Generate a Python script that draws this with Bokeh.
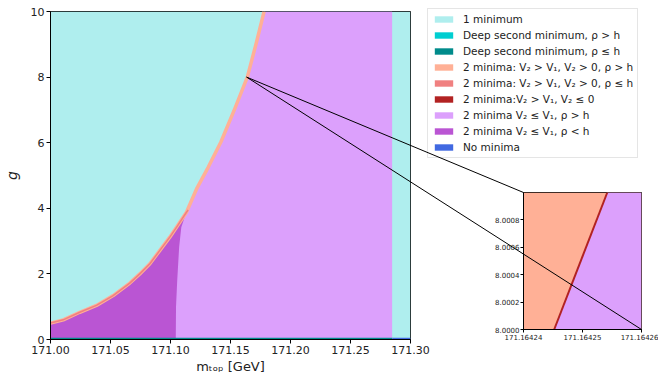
from bokeh.plotting import figure
from bokeh.models import Range1d, FixedTicker, PrintfTickFormatter, Legend, LegendItem
from bokeh.embed import file_html
from bokeh.resources import INLINE

# ---------------- data ----------------
m_range = [171.00, 171.30]
g_range = [0.0, 10.0]
x_ticks = [171.00, 171.05, 171.10, 171.15, 171.20, 171.25, 171.30]
y_ticks = [0, 2, 4, 6, 8, 10]

# boundary of the "1 minimum" region (left / upper-left)
curve_m = [171.000, 171.0106, 171.0244, 171.0383, 171.0522, 171.0661, 171.0744, 171.0828,
           171.091, 171.0994, 171.105, 171.1133, 171.1217, 171.1314, 171.142, 171.1536,
           171.164, 171.1717, 171.178]
curve_g = [0.50, 0.60, 0.83, 1.04, 1.34, 1.72, 2.00, 2.31,
           2.71, 3.12, 3.42, 3.88, 4.59, 5.25, 6.02, 7.04,
           8.00, 9.07, 10.0]

# boundary between "V2<=V1, rho<h" (dark) and "V2<=V1, rho>h" (light)
inner_m = [171.1147, 171.1125, 171.109, 171.1072, 171.1056, 171.1046, 171.1044]
inner_g = [3.95, 3.80, 3.42, 2.81, 1.80, 1.00, 0.00]

# right edge of the two-minima region
right_edge_m = 171.2847

# thin strips along g ~ 0
strip_left_m = [171.00, 171.2847]
strip_right_m = [171.2847, 171.30]
strip_g = [0.0, 0.05]

legend_labels = [
    "1 minimum",
    "Deep second minimum, \u03c1 > h",
    "Deep second minimum, \u03c1 \u2264 h",
    "2 minima: V\u2082 > V\u2081, V\u2082 > 0, \u03c1 > h",
    "2 minima: V\u2082 > V\u2081, V\u2082 > 0, \u03c1 \u2264 h",
    "2 minima:V\u2082 > V\u2081, V\u2082 \u2264 0",
    "2 minima V\u2082 \u2264 V\u2081, \u03c1 > h",
    "2 minima V\u2082 \u2264 V\u2081, \u03c1 < h",
    "No minima",
]
legend_colors = ["#afeeee", "#00ced1", "#008b8b", "#ffb096", "#f08080",
                 "#b22222", "#dca0fc", "#ba55d3", "#4169e1"]
C_ONE, C_DEEP_HI, C_DEEP_LO, C_SALMON, C_CORAL, C_RED, C_LAV, C_ORCHID, C_BLUE = legend_colors

# zoomed window
zoom_m = [171.16424, 171.16426]
zoom_g = [8.0000, 8.0010]
zoom_x_ticks = [171.16424, 171.16425, 171.16426]
zoom_y_ticks = [8.0000, 8.0002, 8.0004, 8.0006, 8.0008]
zoom_line_m = [171.1642452, 171.1642542]
zoom_line_g = [8.0000, 8.0010]

# ---------------- layout constants (page pixels) ----------------
FONT = "DejaVu Sans"
W, H = 658, 369
F_LEFT, F_TOP, FW, FH = 49, 11, 360, 328
I_LEFT, I_TOP, IW, IH = 523, 192, 118, 137
I_BL, I_BT = 40, 5

# ---------------- main figure ----------------
p = figure(frame_width=FW, frame_height=FH, output_backend="svg", toolbar_location=None,
           x_range=Range1d(*m_range), y_range=Range1d(*g_range),
           min_border_left=F_LEFT, min_border_top=F_TOP, min_border_right=W - F_LEFT - FW,
           min_border_bottom=H - F_TOP - FH)
p.grid.visible = False
p.outline_line_color = "black"
p.outline_line_width = 1
p.background_fill_color = "white"

p.quad(left=[m_range[0]], right=[m_range[1]], bottom=[g_range[0]], top=[g_range[1]],
       fill_color=C_ONE, line_color=None)
lav_x = curve_m + [right_edge_m]
lav_top = curve_g + [g_range[1]]
p.varea(x=lav_x, y1=[g_range[0]] * len(lav_x), y2=lav_top, fill_color=C_LAV)

jm = inner_m[0]
low_m = [m for m in curve_m if m < jm]
low_g = [g for m, g in zip(curve_m, curve_g) if m < jm]
p.patch(x=[m_range[0]] + low_m + inner_m, y=[g_range[0]] + low_g + inner_g,
        fill_color=C_ORCHID, line_color=None)
p.line(x=curve_m, y=curve_g, line_color=C_SALMON, line_width=3.5, line_join="round")
p.line(x=low_m + [jm], y=low_g + [inner_g[0]], line_color=C_CORAL, line_width=1.5,
       line_join="round")

p.quad(left=[strip_left_m[0]], right=[strip_left_m[1]], bottom=[strip_g[0]], top=[strip_g[1]],
       fill_color=C_DEEP_LO, line_color=None)
p.quad(left=[strip_right_m[0]], right=[strip_right_m[1]], bottom=[strip_g[0]], top=[strip_g[1]],
       fill_color=C_BLUE, line_color=None)

# legend swatches: zero-area quads (invisible in the plot) carrying each colour
items = []
for lab, col in zip(legend_labels, legend_colors):
    r = p.quad(left=[m_range[0]], right=[m_range[0]], bottom=[g_range[0]], top=[g_range[0]],
               fill_color=col, line_color=None)
    items.append(LegendItem(label=lab, renderers=[r]))
legend = Legend(items=items, location=(17, 181))
legend.label_text_font = FONT
legend.label_text_font_size = "10.5px"
legend.label_text_color = "#222222"
legend.glyph_width = 23
legend.glyph_height = 8
legend.label_height = 12
legend.spacing = 4
legend.padding = 4
legend.margin = 0
legend.label_standoff = 8
legend.border_line_color = "#cccccc"
legend.border_line_width = 1
legend.background_fill_alpha = 0.9
p.add_layout(legend, "right")

for ax in (p.xaxis[0], p.yaxis[0]):
    ax.major_label_text_font = FONT
    ax.major_label_text_font_size = "11px"
    ax.major_label_text_color = "#222222"
    ax.axis_label_text_font = FONT
    ax.axis_label_text_font_style = "normal"
    ax.axis_label_text_color = "#222222"
    ax.major_tick_in = 0
    ax.major_tick_out = 4
    ax.minor_tick_line_color = None
    ax.axis_line_color = "black"
    ax.major_label_standoff = 2
    ax.axis_label_standoff = 2
p.xaxis.ticker = FixedTicker(ticks=x_ticks)
p.xaxis.formatter = PrintfTickFormatter(format="%.2f")
p.yaxis.ticker = FixedTicker(ticks=y_ticks)
p.yaxis.formatter = PrintfTickFormatter(format="%d")
p.xaxis.axis_label = "m\u209c\u2092\u209a [GeV]"
p.xaxis.axis_label_text_font_size = "13px"
p.yaxis.axis_label = "g"
p.yaxis.axis_label_text_font_size = "14px"
p.yaxis.axis_label_text_font_style = "italic"
p.yaxis.axis_label_standoff = 8

# ---------------- inset ----------------
q = figure(frame_width=IW, frame_height=IH, output_backend="svg", toolbar_location=None,
           x_range=Range1d(*zoom_m), y_range=Range1d(*zoom_g),
           min_border_left=I_BL, min_border_top=I_BT, min_border_right=W - I_LEFT - IW,
           min_border_bottom=14,
           styles={"position": "absolute", "left": f"{I_LEFT - I_BL}px",
                   "top": f"{I_TOP - I_BT}px"})
q.grid.visible = False
q.outline_line_color = "black"
q.border_fill_alpha = 0.0
q.quad(left=[zoom_m[0]], right=[zoom_m[1]], bottom=[zoom_g[0]], top=[zoom_g[1]],
       fill_color=C_SALMON, line_color=None)
q.harea(y=zoom_line_g, x1=zoom_line_m, x2=[zoom_m[1]] * len(zoom_line_m), fill_color=C_LAV)
q.line(x=zoom_line_m, y=zoom_line_g, line_color=C_RED, line_width=2)
for ax in (q.xaxis[0], q.yaxis[0]):
    ax.major_label_text_font = FONT
    ax.major_label_text_font_size = "7px"
    ax.major_label_text_color = "#222222"
    ax.major_tick_in = 0
    ax.major_tick_out = 3
    ax.minor_tick_line_color = None
    ax.major_label_standoff = 1
q.xaxis.ticker = FixedTicker(ticks=zoom_x_ticks)
q.xaxis.formatter = PrintfTickFormatter(format="%.5f")
q.yaxis.ticker = FixedTicker(ticks=zoom_y_ticks)
q.yaxis.formatter = PrintfTickFormatter(format="%.4f")

# ---------------- connector overlay ----------------
def main_px(m, g):
    return (F_LEFT + (m - m_range[0]) / (m_range[1] - m_range[0]) * FW,
            F_TOP + (g_range[1] - g) / (g_range[1] - g_range[0]) * FH)

def inset_px(m, g):
    return (I_LEFT + (m - zoom_m[0]) / (zoom_m[1] - zoom_m[0]) * IW,
            I_TOP + (zoom_g[1] - g) / (zoom_g[1] - zoom_g[0]) * IH)

o = figure(frame_width=W, frame_height=H, output_backend="svg", toolbar_location=None,
           x_range=Range1d(0, W), y_range=Range1d(H, 0),
           x_axis_location=None, y_axis_location=None, min_border=0,
           styles={"position": "absolute", "left": "0px", "top": "0px", "z-index": "10"})
o.grid.visible = False
o.outline_line_color = None
o.background_fill_alpha = 0.0
o.border_fill_alpha = 0.0
src = main_px(zoom_m[0], zoom_g[0])
for corner in (inset_px(zoom_m[0], zoom_g[1]), inset_px(zoom_m[1], zoom_g[0])):
    o.line(x=[src[0], corner[0]], y=[src[1], corner[1]], line_color="black", line_width=1)

open("out.html", "w").write(file_html([p, q, o], INLINE))
